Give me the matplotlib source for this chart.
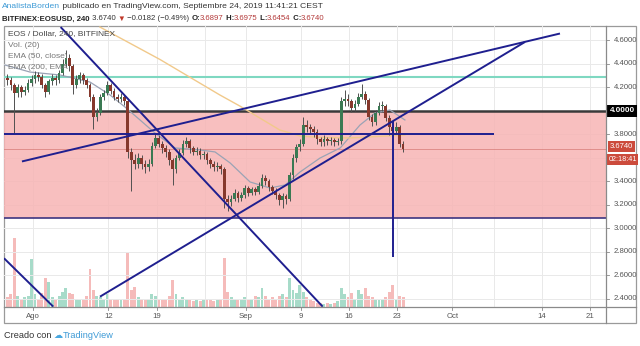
import matplotlib
matplotlib.use("Agg")
import matplotlib.pyplot as plt
import matplotlib.transforms as mtransforms
from matplotlib.patches import Rectangle
from matplotlib.lines import Line2D
import numpy as np
import pandas as pd

# ---------------- data (12h aggregated EOS/USD) ----------------
start_time = "2019-07-28 08:00"
closes = [4.26, 4.22, 4.15, 4.20, 4.16, 4.18, 4.24, 4.27, 4.30, 4.29,
          4.22, 4.16, 4.25, 4.28, 4.26, 4.32, 4.40, 4.45, 4.38, 4.22,
          4.27, 4.30, 4.26, 4.22, 4.12, 3.95, 3.98, 4.12, 4.15, 4.22,
          4.17, 4.12, 4.10, 4.12, 4.08, 3.65, 3.58, 3.55, 3.60, 3.55,
          3.52, 3.55, 3.70, 3.77, 3.72, 3.68, 3.65, 3.58, 3.50, 3.60,
          3.64, 3.72, 3.74, 3.68, 3.65, 3.66, 3.62, 3.63, 3.58, 3.55,
          3.52, 3.53, 3.50, 3.25, 3.22, 3.25, 3.30, 3.26, 3.28, 3.34,
          3.30, 3.33, 3.31, 3.36, 3.43, 3.40, 3.35, 3.32, 3.28, 3.24,
          3.27, 3.25, 3.45, 3.60, 3.69, 3.72, 3.88, 3.86, 3.84, 3.82,
          3.76, 3.73, 3.76, 3.74, 3.75, 3.73, 3.74, 4.08, 4.10, 4.08,
          4.02, 4.06, 4.12, 4.14, 4.09, 3.95, 3.90, 3.98, 4.04, 4.04,
          3.94, 3.86, 3.83, 3.86, 3.72, 3.674]
first_open = 4.28
highs = [4.31, 4.29, 4.24, 4.23, 4.22, 4.21, 4.27, 4.30, 4.34, 4.33,
         4.31, 4.24, 4.27, 4.31, 4.30, 4.35, 4.44, 4.52, 4.48, 4.40,
         4.30, 4.33, 4.32, 4.28, 4.24, 4.14, 4.02, 4.14, 4.18, 4.25,
         4.24, 4.19, 4.14, 4.15, 4.14, 4.10, 3.68, 3.63, 3.64, 3.62,
         3.58, 3.59, 3.73, 3.80, 3.79, 3.74, 3.71, 3.67, 3.60, 3.62,
         3.67, 3.75, 3.78, 3.76, 3.70, 3.69, 3.68, 3.66, 3.65, 3.60,
         3.57, 3.56, 3.55, 3.52, 3.28, 3.28, 3.33, 3.32, 3.31, 3.37,
         3.36, 3.35, 3.35, 3.39, 3.46, 3.45, 3.42, 3.37, 3.34, 3.30,
         3.30, 3.29, 3.48, 3.63, 3.72, 3.76, 3.95, 3.92, 3.89, 3.87,
         3.84, 3.78, 3.79, 3.78, 3.78, 3.77, 3.77, 4.12, 4.18, 4.14,
         4.10, 4.09, 4.15, 4.23, 4.17, 4.11, 3.97, 4.01, 4.07, 4.08,
         4.06, 3.96, 3.89, 3.90, 3.88, 3.74]
lows = [4.22, 4.18, 3.81, 4.12, 4.12, 4.13, 4.16, 4.21, 4.24, 4.25,
        4.19, 4.12, 4.14, 4.22, 4.22, 4.24, 4.30, 4.37, 4.34, 4.14,
        4.19, 4.24, 4.23, 4.19, 4.08, 3.84, 3.91, 3.96, 4.09, 4.13,
        4.14, 4.09, 4.07, 4.07, 4.05, 3.60, 3.32, 3.50, 3.51, 3.50,
        3.47, 3.49, 3.53, 3.68, 3.69, 3.64, 3.61, 3.54, 3.37, 3.47,
        3.58, 3.62, 3.69, 3.64, 3.62, 3.62, 3.59, 3.59, 3.55, 3.51,
        3.49, 3.49, 3.46, 3.17, 3.15, 3.19, 3.23, 3.22, 3.23, 3.26,
        3.27, 3.28, 3.28, 3.29, 3.34, 3.37, 3.32, 3.29, 3.25, 3.20,
        3.17, 3.21, 3.23, 3.42, 3.56, 3.66, 3.70, 3.82, 3.80, 3.78,
        3.72, 3.70, 3.70, 3.71, 3.71, 3.70, 3.71, 3.72, 4.04, 4.04,
        3.99, 4.00, 4.04, 4.10, 4.06, 3.92, 3.87, 3.88, 3.96, 4.00,
        3.91, 3.79, 3.80, 3.81, 3.69, 3.645]
volumes = [0.35, 0.45, 2.45, 0.40, 0.30, 0.35, 0.40, 1.71, 0.45, 0.30,
           0.50, 1.03, 0.90, 0.35, 0.30, 0.40, 0.55, 0.68, 0.50, 0.45,
           0.30, 0.25, 0.30, 0.40, 1.35, 0.60, 0.40, 0.35, 0.30, 0.45,
           0.30, 0.25, 0.30, 0.25, 0.30, 1.92, 0.60, 0.70, 0.35, 0.30,
           0.25, 0.30, 0.45, 0.40, 0.30, 0.25, 0.30, 0.40, 0.96, 0.45,
           0.30, 0.35, 0.30, 0.25, 0.20, 0.25, 0.20, 0.25, 0.30, 0.25,
           0.20, 0.25, 0.30, 1.74, 0.55, 0.35, 0.30, 0.25, 0.30, 0.35,
           0.25, 0.30, 0.40, 0.35, 0.68, 0.40, 0.30, 0.35, 0.30, 0.40,
           0.45, 0.35, 1.03, 0.60, 0.50, 0.78, 0.55, 0.35, 0.25, 0.20,
           0.15, 0.15, 0.12, 0.15, 0.12, 0.15, 0.20, 0.68, 0.45, 0.35,
           0.50, 0.30, 0.60, 0.45, 0.68, 0.40, 0.35, 0.30, 0.25, 0.30,
           0.35, 0.55, 0.78, 0.30, 0.40, 0.35]

# indicator lines (days since 1 Aug 2019, price)
ema50_days = [-4.03, -0.39, 3.97, 8.33, 11.24, 13.42, 15.6, 17.77, 20.68, 24.3, 26.5,
              28.7, 31.6, 34.5, 36.7, 38.85, 41.76, 44.7, 47.57, 49.75, 51.93, 54.1]
ema50_vals = [4.389, 4.329, 4.304, 4.244, 4.134, 4.031, 3.921, 3.81, 3.683, 3.666, 3.649,
              3.555, 3.393, 3.342, 3.368, 3.478, 3.597, 3.683, 3.878, 3.98, 4.006, 3.921]
ema200_days = [9.78, 18.5, 27.2, 30.1, 33.0, 35.9, 38.85, 41.76, 46.1, 54.1]
ema200_vals = [4.712, 4.436, 4.134, 4.04, 3.938, 3.836, 3.785, 3.772, 3.768, 3.793]

# drawings (days, price)
trend_lines = [
    ([4.06, 42.15], [4.712, 2.332]),
    ([-4.17, 2.99], [2.744, 2.332]),
    ([9.78, 71.55], [2.417, 4.585]),
    ([-1.56, 76.64], [3.568, 4.657]),
    ([-4.17, 67.1], [3.802, 3.802]),
    ([52.33, 52.33], [3.91, 2.752]),
]
resistance = 4.0
zone_low = 3.089
teal_level = 4.289
last_price = 3.674

price_ticks = [2.4, 2.6, 2.8, 3.0, 3.2, 3.4, 3.6, 3.8, 4.0, 4.2, 4.4, 4.6]
hidden_tick_labels = [3.6, 4.0]   # covered by the price / countdown boxes
date_ticks = ["2019-08-01", "2019-08-12", "2019-08-19", "2019-09-01", "2019-09-09",
              "2019-09-16", "2019-09-23", "2019-10-01", "2019-10-14", "2019-10-21"]
date_labels = ["Ago", "12", "19", "Sep", "9", "16", "23", "Oct", "14", "21"]
extra_grid_dates = ["2019-08-26", "2019-10-07"]

# ---------------- figure ----------------
W, H = 640, 346
fig = plt.figure(figsize=(6.4, 3.46), dpi=100)
def fx(x): return x / W
def fy(y): return 1 - y / H

rect = [fx(4), fy(307), (606 - 4) / W, (307 - 26) / H]
vax = fig.add_axes(rect)
ax = fig.add_axes(rect, sharex=vax)
ax.patch.set_visible(False)
vax.set_zorder(0)
ax.set_zorder(1)

origin = pd.Timestamp("2019-08-01")
def to_day(ts):
    return (pd.to_datetime(ts) - origin) / pd.Timedelta(days=1)

times = pd.date_range(start_time, periods=len(closes), freq="12h")
d = np.asarray(to_day(times), dtype=float)
c = np.array(closes)
o = np.array([first_open] + closes[:-1])
hi = np.array(highs)
lo = np.array(lows)
up = c >= o

XMIN, XMAX = -4.17, 83.33
YMIN, YMAX = 2.329, 4.721
ax.set_xlim(XMIN, XMAX)
ax.set_ylim(YMIN, YMAX)
vax.set_ylim(0, 10)

for a in (ax, vax):
    for s in a.spines.values():
        s.set_visible(False)
    a.set_xticks([])
    a.set_yticks([])

# grid
grid_col = "#e9e9e9"
for p in price_ticks:
    ax.axhline(p, color=grid_col, lw=0.7, zorder=0)
for t in date_ticks + extra_grid_dates:
    ax.axvline(to_day(t), color=grid_col, lw=0.7, zorder=0)

# pink zone
ax.add_patch(Rectangle((XMIN, zone_low), XMAX - XMIN, resistance - zone_low,
                       facecolor="#f7b4b4", alpha=0.85, edgecolor="none", zorder=1))
ax.axhline(zone_low, color="#3d3580", lw=1.2, zorder=2)
ax.axhline(resistance, color="#3a3a3a", lw=1.8, zorder=2)
ax.axhline(teal_level, color="#7fd8c1", lw=1.5, zorder=2)
ax.axhline(last_price, color="#c9605a", lw=0.6, alpha=0.6, zorder=2)

# volume
vcol = np.where(up, "#6cc3a6", "#ef8f8c")
vax.bar(d, volumes, width=0.42, color=vcol, alpha=0.6, zorder=1)

# legend texts
leg_texts = [("EOS / Dollar, 240, BITFINEX", "#444444"), ("Vol. (20)", "#777777"),
             ("EMA (50, close)", "#777777"), ("EMA (200, EMA", "#777777")]
for i, (t, col) in enumerate(leg_texts):
    fig.text(fx(8), fy(34 + 11.3 * i), t, fontsize=6.0, color=col, va="center",
             family="Liberation Sans", zorder=2)

# EMAs
ax.plot(ema50_days, ema50_vals, color="#9aa3b5", lw=0.9, zorder=3)
ax.plot(ema200_days, ema200_vals, color="#f1c98a", lw=1.0, zorder=3)

# candles
body_col = np.where(up, "#3a7a53", "#86382c")
ax.vlines(d, lo, hi, color="#505050", lw=0.7, zorder=4)
ax.bar(d, np.maximum(np.abs(c - o), 0.01), bottom=np.minimum(o, c), width=0.4,
       color=body_col, zorder=5)

# trend lines
for xs, ys in trend_lines:
    ax.plot(xs, ys, color="#1f1f8f", lw=1.4, zorder=6, solid_capstyle="butt")

# ---------------- axes decorations ----------------
blend = mtransforms.blended_transform_factory(ax.transAxes, ax.transData)
for p in price_ticks:
    ax.plot([1.0, 1.005], [p, p], color="#888888", lw=0.6, transform=blend, clip_on=False)
    if any(abs(p - h) < 1e-9 for h in hidden_tick_labels):
        continue
    ax.text(1.013, p, f"{p:.4f}", transform=blend, fontsize=5.6, color="#555555",
            va="center", ha="left", clip_on=False, family="Liberation Sans")
ax.text(1.006, resistance, "4.0000", transform=blend, fontsize=5.8, color="white",
        fontweight="bold", va="center", ha="left", clip_on=False, family="Liberation Sans",
        bbox=dict(boxstyle="square,pad=0.3", facecolor="black", edgecolor="none"))
ax.text(1.006, last_price + 0.02, "3.6740", transform=blend, fontsize=5.5, color="white",
        va="center", ha="left", clip_on=False, family="Liberation Sans",
        bbox=dict(boxstyle="square,pad=0.22", facecolor="#cc4b3c", edgecolor="none"))
ax.text(1.004, last_price - 0.09, "02:18:41", transform=blend, fontsize=5.2, color="white",
        va="center", ha="left", clip_on=False, family="Liberation Sans",
        bbox=dict(boxstyle="square,pad=0.22", facecolor="#cc4b3c", edgecolor="none"))

bl2 = mtransforms.blended_transform_factory(ax.transData, fig.transFigure)
for t, lab in zip(date_ticks, date_labels):
    x = to_day(t)
    ax.plot([x, x], [fy(307), fy(309.5)], color="#888888", lw=0.6, transform=bl2, clip_on=False)
    ax.text(x, fy(316), lab, transform=bl2, fontsize=5.6, color="#555555", ha="center",
            va="center", clip_on=False, family="Liberation Sans")

# frame
fig.add_artist(Rectangle((fx(4), fy(323)), (636 - 4) / W, (323 - 26) / H, fill=False,
                         edgecolor="#9a9a9a", lw=0.9, transform=fig.transFigure))
fig.add_artist(Line2D([fx(4), fx(636)], [fy(307), fy(307)], color="#8a8a8a", lw=0.9))
fig.add_artist(Line2D([fx(606), fx(606)], [fy(26), fy(323)], color="#8a8a8a", lw=0.9))

# ---------------- header / footer ----------------
fig.canvas.draw()
renderer = fig.canvas.get_renderer()

def row(x0, y, parts, size=6.3):
    x = x0
    for txt, col, weight in parts:
        t = fig.text(fx(x), fy(y), txt, fontsize=size, color=col, fontweight=weight,
                     va="center", ha="left", family=["Liberation Sans", "DejaVu Sans"])
        bb = t.get_window_extent(renderer=renderer)
        x += bb.width
    return x

row(2, 7, [("AnalistaBorden", "#3d9ad6", "normal"),
           (" publicado en TradingView.com, Septiembre 24, 2019 11:41:21 CEST", "#333333", "normal")],
    size=6.1)
red = "#b33a3a"
row(2, 19, [("BITFINEX:EOSUSD, 240", "#222222", "bold"),
            (" 3.6740 ", "#333333", "normal"),
            ("\u25BC", "#c0392b", "normal"),
            (" \u22120.0182 (\u22120.49%) ", "#333333", "normal"),
            ("O:", "#222222", "bold"), ("3.6897", red, "normal"),
            (" H:", "#222222", "bold"), ("3.6975", red, "normal"),
            (" L:", "#222222", "bold"), ("3.6454", red, "normal"),
            (" C:", "#222222", "bold"), ("3.6740", red, "normal")], size=5.6)
row(4, 336, [("Creado con ", "#333333", "normal"),
             ("\u2601", "#4aa8e0", "normal"),
             ("TradingView", "#3d9ad6", "normal")], size=6.6)

fig.savefig("out.png", dpi=100)
